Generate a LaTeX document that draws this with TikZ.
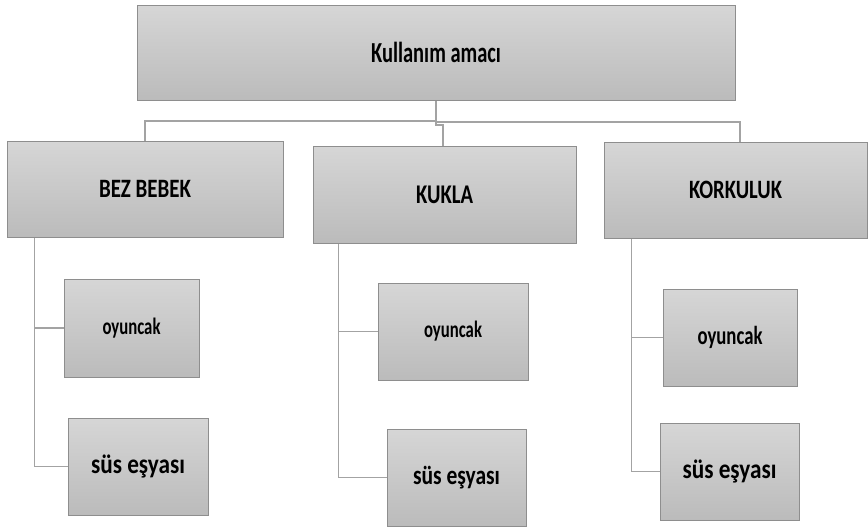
\documentclass[tikz,border=0pt]{standalone}
\usepackage{fontspec}
\setmainfont{Carlito}
\usetikzlibrary{calc}
\definecolor{boxtop}{HTML}{D6D6D6}
\definecolor{boxbot}{HTML}{BBBBBB}
\definecolor{boxline}{HTML}{8E8E8E}
\definecolor{conn}{HTML}{A3A3A3}
\newsavebox\fitbox
\newcommand\fitw[3]{%
  \sbox\fitbox{\fontsize{#2}{#2}\selectfont\bfseries #3}%
  \pgfmathsetmacro\fitr{#1/\wd\fitbox}%
  \scalebox{\fitr}[1]{\usebox\fitbox}}
\tikzset{
  gbox/.style={rectangle, draw=boxline, line width=1pt, top color=boxtop, bottom color=boxbot,
    inner sep=0pt, anchor=center},
  link/.style={draw=conn, line width=1.3pt}
}
\begin{document}
\begin{tikzpicture}[x=1pt,y=-1pt]
\useasboundingbox (0,0) rectangle (868,530);
% boxes
\node[gbox, minimum width=598pt, minimum height=95pt] (root) at (436,52.5) {\fitw{130}{29}{Kullanım amacı}};
\node[gbox, minimum width=276pt, minimum height=96pt] (bez) at (145,189) {\fitw{92}{26.5}{BEZ BEBEK}};
\node[gbox, minimum width=263pt, minimum height=97pt] (kukla) at (444.5,194.5) {\fitw{57}{27}{KUKLA}};
\node[gbox, minimum width=263pt, minimum height=96pt] (kork) at (735.5,190) {\fitw{93}{26.5}{KORKULUK}};
\node[gbox, minimum width=135pt, minimum height=98pt] (oy1) at (131.5,328) {\fitw{58}{23.5}{oyuncak}};
\node[gbox, minimum width=140pt, minimum height=97pt] (sus1) at (138,466.5) {\fitw{94}{27.5}{süs eşyası}};
\node[gbox, minimum width=150pt, minimum height=97pt] (oy2) at (453,331.5) {\fitw{58}{23.5}{oyuncak}};
\node[gbox, minimum width=139pt, minimum height=97pt] (sus2) at (456.5,477.5) {\fitw{87}{27}{süs eşyası}};
\node[gbox, minimum width=134pt, minimum height=97pt] (oy3) at (730,337.5) {\fitw{65}{26}{oyuncak}};
\node[gbox, minimum width=139pt, minimum height=97pt] (sus3) at (729.5,471.5) {\fitw{94}{27.5}{süs eşyası}};
% junction coordinates
\coordinate (jl) at (436,121);
\coordinate (jm) at (436,125);
\coordinate (km) at (443,146);
\coordinate (jr) at (436,122);
\coordinate (kr) at (740,142);
\coordinate (bt) at ($(bez.south west)+(28,0)$);
\coordinate (kt) at ($(kukla.south west)+(26,0)$);
\coordinate (rt) at ($(kork.south west)+(28,0)$);
% top connectors
\draw[link] (root.south) -- (jl) -| (bez.north);
\draw[link] (root.south) -- (jm) -| (km);
\draw[link] (jr) -| (kr);
% child connectors
\draw[link] (bt) |- (sus1.west);
\draw[link] (bt |- oy1.west) -- (oy1.west);
\draw[link] (kt) |- (sus2.west);
\draw[link] (kt |- oy2.west) -- (oy2.west);
\draw[link] (rt) |- (sus3.west);
\draw[link] (rt |- oy3.west) -- (oy3.west);
\end{tikzpicture}
\end{document}
